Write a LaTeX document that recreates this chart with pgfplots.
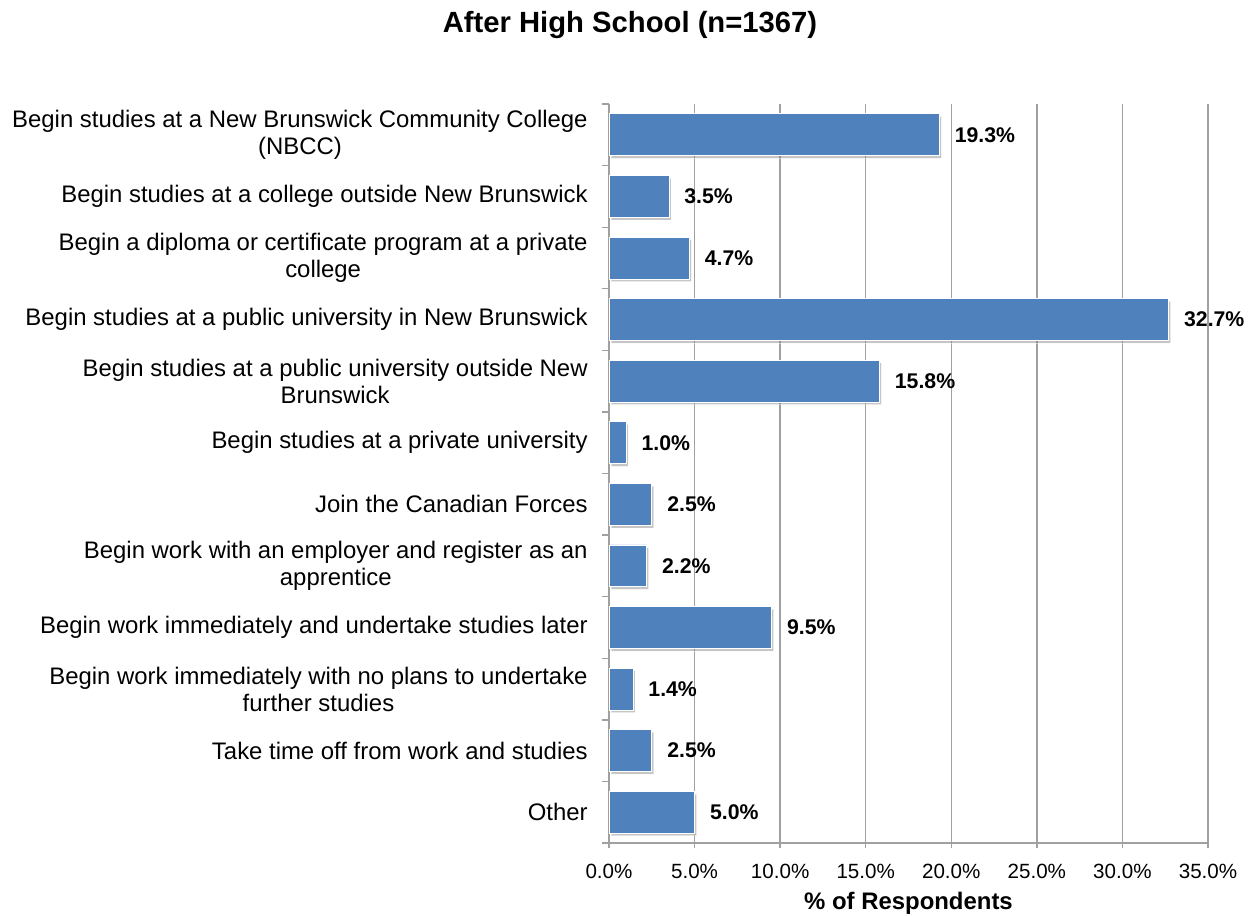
\documentclass[border=0pt]{standalone}
\usepackage{pgfplots}
\pgfplotsset{compat=1.18}
\usepackage{fontspec}
\setmainfont{Liberation Sans}
\usetikzlibrary{shadows}
\definecolor{barblue}{RGB}{79,129,189}
\definecolor{gridgray}{RGB}{160,160,160}
\begin{document}
\begin{tikzpicture}
\useasboundingbox (0,0) rectangle (941.25bp,687bp);
\node[font=\fontsize{22}{26}\selectfont\bfseries] at (472.5bp,668.25bp) {After High School (n=1367)};
\begin{axis}[
  at={(456.75bp,54.75bp)}, anchor=south west,
  width=449.25bp, height=554.25bp, scale only axis,
  xbar, bar width=0.68,
  xmin=0, xmax=35,
  ymin=-0.5, ymax=11.5, y dir=reverse,
  axis lines=left, axis line style={-, draw=gridgray, line width=1.1bp},
  xtick={0,5,...,35},
  xticklabels={0.0\%,5.0\%,10.0\%,15.0\%,20.0\%,25.0\%,30.0\%,35.0\%},
  xmajorgrids, grid style={draw=gridgray, line width=1.1bp},
  tick align=outside, major tick length=4bp,
  tick style={draw=gridgray, line width=1bp},
  ytick={0,...,11},
  minor ytick={-0.5,0.5,...,11.5},
  minor tick length=5bp,
  major y tick style={draw=none},
  yticklabels={
    {Begin studies at a New Brunswick Community College\\(NBCC)},
    {Begin studies at a college outside New Brunswick},
    {Begin a diploma or certificate program at a private\\college},
    {Begin studies at a public university in New Brunswick},
    {Begin studies at a public university outside New\\Brunswick},
    {Begin studies at a private university},
    {Join the Canadian Forces},
    {Begin work with an employer and register as an\\apprentice},
    {Begin work immediately and undertake studies later},
    {Begin work immediately with no plans to undertake\\further studies},
    {Take time off from work and studies},
    {Other}},
  yticklabel style={align=center, anchor=east, xshift=-8.5bp, font=\fontsize{18}{20.25}\selectfont},
  xticklabel style={font=\fontsize{15.5}{18}\selectfont, yshift=-8bp},
  xlabel={\% of Respondents},
  xlabel style={font=\fontsize{18}{20}\selectfont\bfseries, at={(axis description cs:0.5,0)}, anchor=center, yshift=-45bp},
  nodes near coords={\pgfmathprintnumber[fixed,fixed zerofill,precision=1,assume math mode=true]{\pgfplotspointmeta}\%},
  nodes near coords style={anchor=west, xshift=8bp, font=\fontsize{16}{18}\selectfont\bfseries, text=black},
]
\addplot[fill=barblue, draw=white, line width=0.6pt,
  drop shadow={shadow xshift=1.5bp, shadow yshift=-2bp, opacity=0.45}]
  coordinates {
  (19.3,0) (3.5,1) (4.7,2) (32.7,3) (15.8,4) (1.0,5)
  (2.5,6) (2.2,7) (9.5,8) (1.4,9) (2.5,10) (5.0,11)};
\end{axis}
\end{tikzpicture}
\end{document}
